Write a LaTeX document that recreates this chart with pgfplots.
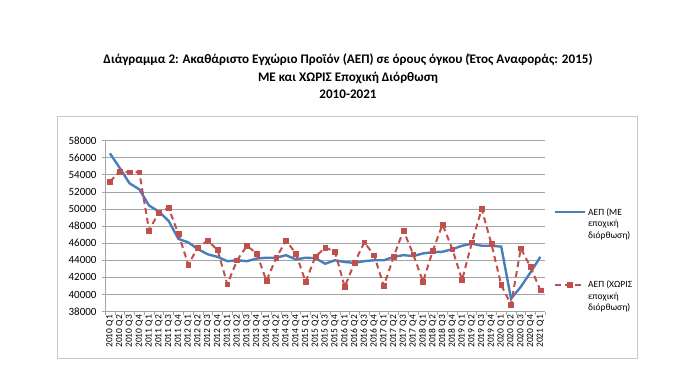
\documentclass[border=0pt]{standalone}
\usepackage{pgfplots}
\pgfplotsset{compat=1.18}
\usepackage{pgfplotstable}
\usepackage{fontspec}
\setmainfont{Carlito}
\definecolor{exblue}{RGB}{74,126,187}
\definecolor{exred}{RGB}{192,80,77}
\definecolor{gridgray}{RGB}{165,165,165}
\definecolor{boxgray}{RGB}{200,200,200}

\pgfplotstableread{
i me xoris
0 56500 53200
1 54800 54400
2 53000 54300
3 52300 54300
4 50400 47500
5 49700 49600
6 48600 50100
7 46500 47100
8 46100 43500
9 45300 45500
10 44700 46300
11 44400 45200
12 43900 41200
13 44000 44000
14 43900 45700
15 44200 44800
16 44300 41600
17 44300 44300
18 44600 46300
19 44100 44800
20 44300 41500
21 44250 44400
22 43600 45500
23 44000 45000
24 43800 40900
25 43700 43700
26 43900 46100
27 44000 44600
28 44000 41000
29 44400 44400
30 44600 47500
31 44500 44700
32 44800 41500
33 44950 45100
34 45000 48200
35 45300 45300
36 45700 41700
37 45950 46100
38 45700 50000
39 45700 45900
40 45600 41100
41 39500 38800
42 40900 45400
43 42600 43200
44 44400 40500
}\gdpdata

\begin{document}
\begin{tikzpicture}[x=1pt,y=1pt]
\path[use as bounding box] (0,0) rectangle (700,390);
\draw[boxgray, line width=0.8pt] (57,32) rectangle (637,274);
\node[font=\bfseries\fontsize{13.1}{17.5}\selectfont, align=center] at (348,313.5)
 {Διάγραμμα 2: Ακαθάριστο Εγχώριο Προϊόν (ΑΕΠ) σε όρους όγκου (Έτος Αναφοράς: 2015)\\ΜΕ και ΧΩΡΙΣ Εποχική Διόρθωση\\2010-2021};
\begin{axis}[
  at={(107.4,91.7)}, anchor=south west,
  scale only axis, width=440.2pt, height=171pt,
  xmin=-0.5, xmax=44.5, ymin=38000, ymax=58000,
  axis lines=left,
  axis line style={-, draw=gridgray, line width=0.6pt},
  ytick={38000,40000,...,58000},
  ymajorgrids,
  grid style={draw=gridgray, line width=0.6pt},
  tick pos=left, tick align=outside,
  major tick length=3pt,
  tick style={draw=gridgray, line width=0.6pt},
  scaled y ticks=false,
  yticklabel style={/pgf/number format/1000 sep={}, font=\fontsize{11}{12}\selectfont, xshift=-2pt},
  /pgf/number format/assume math mode=true,
  xtick={-0.5,0.5,...,44.5},
  xticklabels={},
  extra x ticks={0,1,...,44},
  extra x tick labels={2010 Q1,2010 Q2,2010 Q3,2010 Q4,2011 Q1,2011 Q2,2011 Q3,2011 Q4,2012 Q1,2012 Q2,2012 Q3,2012 Q4,2013 Q1,2013 Q2,2013 Q3,2013 Q4,2014 Q1,2014 Q2,2014 Q3,2014 Q4,2015 Q1,2015 Q2,2015 Q3,2015 Q4,2016 Q1,2016 Q2,2016 Q3,2016 Q4,2017 Q1,2017 Q2,2017 Q3,2017 Q4,2018 Q1,2018 Q2,2018 Q3,2018 Q4,2019 Q1,2019 Q2,2019 Q3,2019 Q4,2020 Q1,2020 Q2,2020 Q3,2020 Q4,2021 Q1},
  extra x tick style={major tick length=0pt, tick label style={rotate=90, anchor=east, font=\fontsize{9.5}{11}\selectfont}},
  legend style={at={(1.012,0.636)}, anchor=north west, draw=none, fill=none,
    font=\fontsize{9.5}{11.5}\selectfont, cells={anchor=base west}, row sep=59pt},
  legend image code/.code={\draw[mark repeat=2,mark phase=2,#1] plot coordinates {(0pt,3pt) (15pt,3pt) (30pt,3pt)};},
]
\addplot[color=exblue, line width=2.4pt, no markers] table[x=i, y=me] {\gdpdata};
\addlegendentry{\begin{tabular}[t]{@{}l@{}}ΑΕΠ (ΜΕ\\εποχική\\διόρθωση)\end{tabular}}
\addplot[color=exred, line width=2pt, dash pattern=on 6pt off 4pt, mark=square*, mark size=2.4pt, mark options={solid, fill=exred, draw=exred, line width=0.5pt}] table[x=i, y=xoris] {\gdpdata};
\addlegendentry{\begin{tabular}[t]{@{}l@{}}ΑΕΠ (ΧΩΡΙΣ\\εποχική\\διόρθωση)\end{tabular}}
\end{axis}
\end{tikzpicture}
\end{document}
